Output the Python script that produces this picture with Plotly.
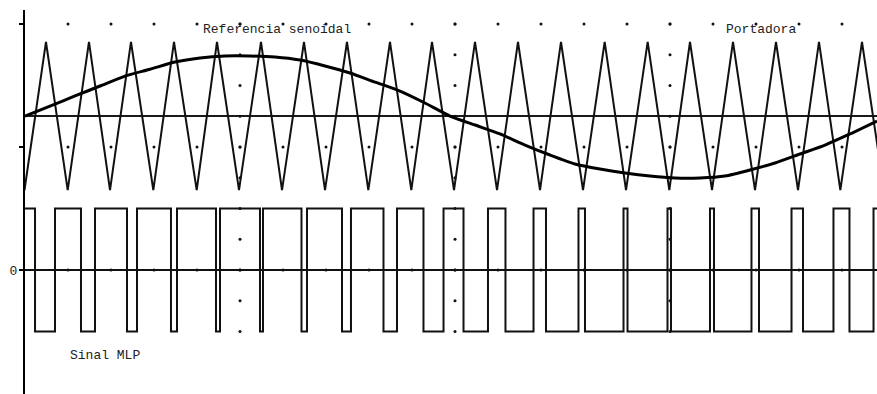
import plotly.graph_objects as go

# Time axis in ms; vertical axis in graticule divisions (0 = PWM zero level)
T_END = 19.814

# Carrier (Portadora): triangle vertices
carrier_t = [
    -0.012, 0.488, 0.993, 1.488, 1.977, 2.465, 2.984, 3.465, 3.993, 4.465,
    4.977, 5.488, 5.977, 6.488, 6.977, 7.488, 7.984, 8.488, 8.984, 9.465,
    9.977, 10.465, 10.977, 11.465, 11.977, 12.465, 12.977, 13.481, 13.977, 14.481,
    14.984, 15.465, 15.977, 16.465, 16.977, 17.465, 17.977, 18.465, 18.961, 19.465,
    19.977,
]
carrier_v = [
    0.650, 1.854, 0.650, 1.854, 0.650, 1.854, 0.650, 1.854, 0.650, 1.854,
    0.650, 1.854, 0.650, 1.854, 0.650, 1.854, 0.650, 1.854, 0.650, 1.854,
    0.650, 1.854, 0.650, 1.854, 0.650, 1.854, 0.650, 1.854, 0.650, 1.854,
    0.650, 1.854, 0.650, 1.854, 0.650, 1.854, 0.650, 1.854, 0.650, 1.854,
    0.650,
]

# Sinusoidal reference (Referencia senoidal), sampled
sine_t = [0.000, 0.581, 1.163, 1.744, 2.326, 2.907, 3.488, 4.070, 4.651, 5.233,
          5.814, 6.395, 6.977, 7.558, 8.140, 8.721, 9.302, 9.884, 10.465, 11.047,
          11.628, 12.209, 12.791, 13.372, 13.953, 14.535, 15.116, 15.698, 16.279, 16.860,
          17.442, 18.023, 18.605, 19.186, 19.814]
sine_v = [1.252, 1.333, 1.415, 1.496, 1.577, 1.632, 1.691, 1.724, 1.740, 1.740,
          1.732, 1.707, 1.659, 1.602, 1.528, 1.455, 1.358, 1.252, 1.179, 1.106,
          1.016, 0.935, 0.862, 0.821, 0.789, 0.764, 0.748, 0.748, 0.764, 0.813,
          0.870, 0.943, 1.016, 1.106, 1.211]

# PWM output (Sinal MLP): switching instants, starting at the high level
pwm_edges = [0.233, 0.698, 1.302, 1.628, 2.372, 2.605, 3.395, 3.535, 4.442, 4.535,
             5.465, 5.535, 6.430, 6.558, 7.372, 7.581, 8.337, 8.651, 9.267, 9.733,
             10.198, 10.767, 11.174, 11.826, 12.116, 12.872, 13.023, 13.919, 14.012, 14.942,
             15.023, 15.930, 16.023, 16.895, 17.070, 17.826, 18.093, 18.802, 19.174, 19.733]
pwm_high = 0.5
pwm_low = -0.5

fig = go.Figure()

# graticule dots: one per ms along the major rows, quarter-division steps on every 5th ms
dots_x, dots_y = [], []
for k in range(1, 20):
    for yy in (2.0, 1.0, 0.0):
        dots_x.append(k)
        dots_y.append(yy)
for k in (5, 10, 15):
    for j in range(11):
        dots_x.append(k)
        dots_y.append(2.0 - 0.25 * j)
fig.add_trace(go.Scatter(x=dots_x, y=dots_y, mode="markers",
                         marker=dict(size=3, color="#111"), hoverinfo="skip"))

# carrier centre line
centre = (max(carrier_v) + min(carrier_v)) / 2
fig.add_shape(type="line", xref="x", yref="y", x0=0, x1=T_END, y0=centre, y1=centre,
              line=dict(color="#1a1a1a", width=2), layer="below")

fig.add_trace(go.Scatter(x=carrier_t, y=carrier_v, mode="lines",
                         line=dict(color="#111", width=2), name="Portadora"))
fig.add_trace(go.Scatter(x=sine_t, y=sine_v, mode="lines",
                         line=dict(color="#000", width=3, shape="spline", smoothing=0.6),
                         name="Referencia senoidal"))

px_, py_ = [0.0], [pwm_high]
level = pwm_high
for e in pwm_edges:
    level = pwm_low if level == pwm_high else pwm_high
    px_.append(e)
    py_.append(level)
px_.append(T_END)
py_.append(level)
fig.add_trace(go.Scatter(x=px_, y=py_, mode="lines", line_shape="hv",
                         line=dict(color="#111", width=2), name="Sinal MLP"))

font = dict(family="Liberation Mono, Courier New, monospace", size=13, color="#222")
fig.add_annotation(x=5.87, y=1.959, text="Referencia senoidal", showarrow=False, font=font)
fig.add_annotation(x=17.12, y=1.959, text="Portadora", showarrow=False, font=font)
fig.add_annotation(x=1.85, y=-0.691, text="Sinal MLP", showarrow=False, font=font)

fig.update_layout(
    width=877, height=394,
    margin=dict(l=25, r=0, t=10, b=0),
    paper_bgcolor="white", plot_bgcolor="white",
    showlegend=False,
    xaxis=dict(range=[0, T_END], showgrid=False, zeroline=False, showline=False,
               showticklabels=False, ticks=""),
    yaxis=dict(range=[-1.008, 2.114], showgrid=False,
               zeroline=True, zerolinecolor="#111", zerolinewidth=2,
               showline=True, linecolor="#000", linewidth=2,
               ticks="outside", ticklen=4, tickwidth=1.5, tickcolor="#000",
               tickvals=[0, 1, 2], ticktext=["0", "", ""],
               tickfont=font, ticklabelstandoff=-1),
)

fig.write_html("out.html")
